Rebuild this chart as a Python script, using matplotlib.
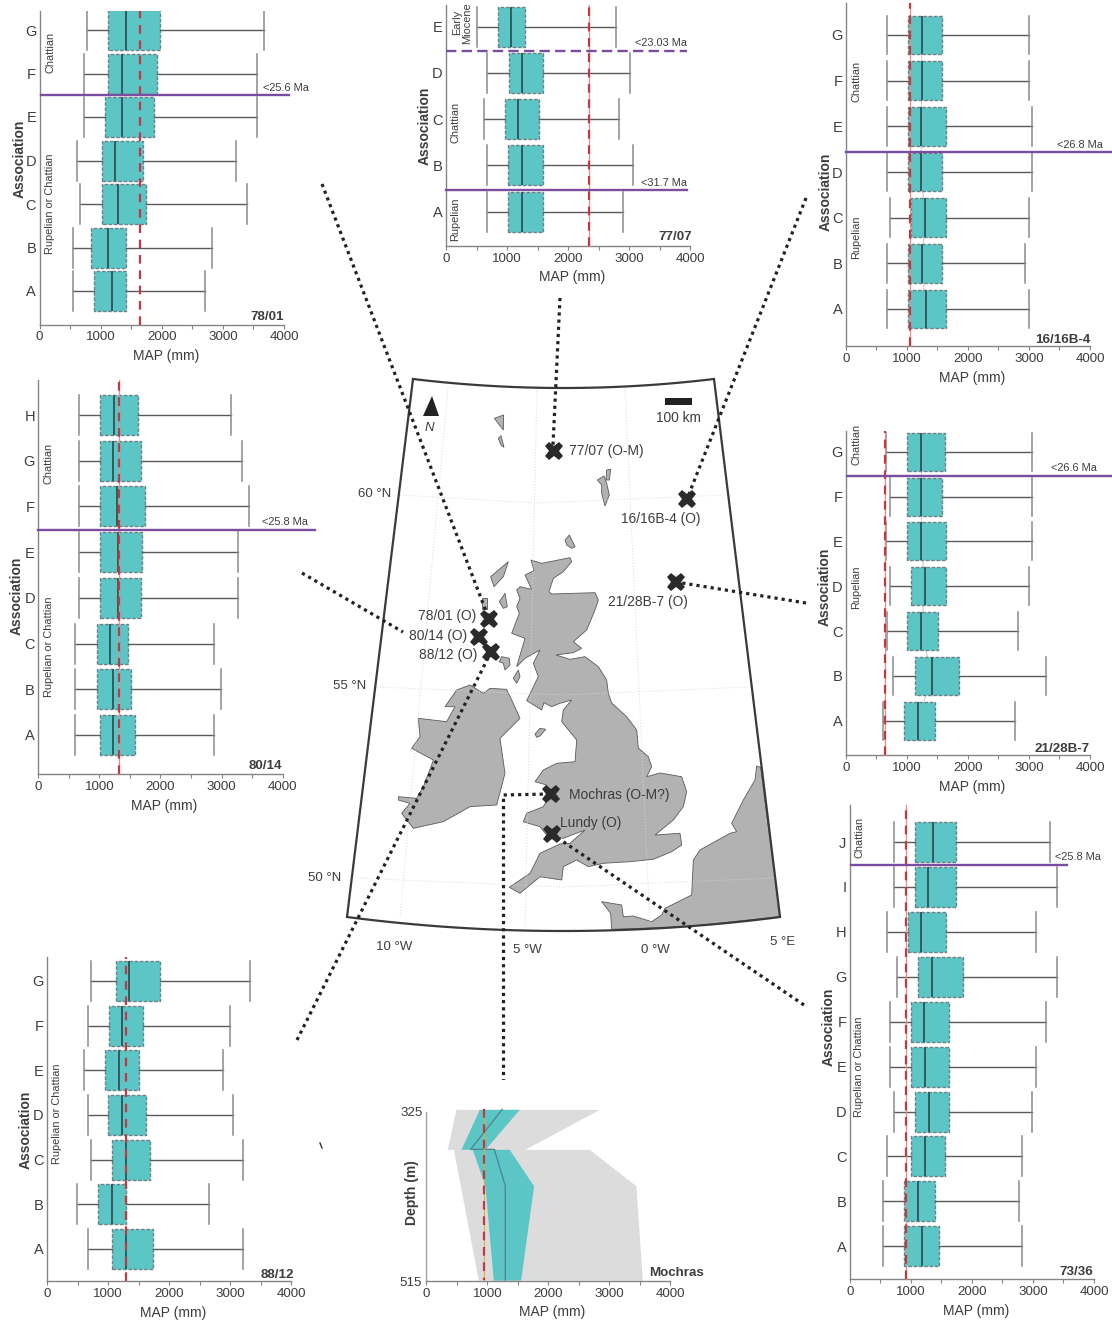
import matplotlib
matplotlib.use("Agg")
import matplotlib.pyplot as plt
from matplotlib.patches import Polygon
import numpy as np

plt.rcParams['font.family'] = ['Liberation Sans', 'DejaVu Sans']
W, H = 1112, 1323
INK = '#3d3d3d'
TEAL = '#5CC5C5'
PURPLE = '#7A4DA0'
RED = '#BE3A44'

XTICKS = [0, 500, 1000, 1500, 2000, 2500, 3000, 3500, 4000]
XTICKLABELS = ['0', '', '1000', '', '2000', '', '3000', '', '4000']

# ---------- box data, association A upward ----------
CATS_7801 = list('ABCDEFG')
LOW_7801 = [552, 552, 667, 612, 721, 721, 781]
Q1_7801 = [896, 842, 1016, 1016, 1071, 1126, 1126]
MED_7801 = [1191, 1115, 1290, 1240, 1344, 1344, 1415]
Q3_7801 = [1410, 1410, 1743, 1689, 1869, 1918, 1973]
HIGH_7801 = [2710, 2820, 3388, 3219, 3557, 3557, 3678]
REF_7801 = 1639

CATS_8014 = list('ABCDEFGH')
LOW_8014 = [606, 606, 606, 666, 666, 666, 666, 666]
Q1_8014 = [1015, 955, 955, 1010, 1015, 1010, 1015, 1010]
MED_8014 = [1228, 1228, 1179, 1299, 1299, 1288, 1228, 1239]
Q3_8014 = [1577, 1522, 1463, 1686, 1692, 1741, 1686, 1637]
HIGH_8014 = [2881, 2996, 2881, 3274, 3274, 3443, 3329, 3160]
REF_8014 = 1321

CATS_8812 = list('ABCDEFG')
LOW_8812 = [666, 497, 720, 666, 606, 666, 720]
Q1_8812 = [1064, 841, 1064, 1004, 955, 1010, 1124]
MED_8812 = [1293, 1064, 1288, 1233, 1173, 1233, 1348]
Q3_8812 = [1741, 1288, 1681, 1626, 1512, 1571, 1855]
HIGH_8812 = [3214, 2652, 3214, 3050, 2875, 2990, 3329]
REF_8812 = 1293

CATS_7707 = list('ABCDE')
LOW_7707 = [677, 677, 617, 677, 507]
Q1_7707 = [1021, 1021, 966, 1026, 851]
MED_7707 = [1250, 1239, 1184, 1244, 1064]
Q3_7707 = [1588, 1588, 1527, 1588, 1299]
HIGH_7707 = [2892, 3067, 2837, 3006, 2783]
REF_7707 = 2335

CATS_1616 = list('ABCDEFG')
LOW_1616 = [671, 671, 731, 671, 671, 671, 671]
Q1_1616 = [1015, 1020, 1075, 1015, 1015, 1015, 1015]
MED_1616 = [1310, 1244, 1304, 1233, 1233, 1244, 1244]
Q3_1616 = [1637, 1582, 1637, 1577, 1637, 1582, 1582]
HIGH_1616 = [2996, 2935, 2996, 3050, 3050, 2996, 2996]
REF_1616 = 1053

CATS_2128 = list('ABCDEFG')
LOW_2128 = [611, 780, 671, 726, 660, 726, 660]
Q1_2128 = [955, 1130, 1010, 1070, 1010, 1010, 1010]
MED_2128 = [1184, 1413, 1239, 1293, 1239, 1239, 1239]
Q3_2128 = [1462, 1855, 1517, 1643, 1637, 1577, 1632]
HIGH_2128 = [2772, 3280, 2827, 2996, 3056, 3056, 3056]
REF_2128 = 644

CATS_7336 = list('ABCDEFGHIJ')
LOW_7336 = [551, 551, 606, 720, 660, 660, 780, 606, 720, 720]
Q1_7336 = [895, 890, 1010, 1070, 1010, 1004, 1119, 960, 1070, 1070]
MED_7336 = [1179, 1113, 1233, 1293, 1233, 1222, 1348, 1173, 1288, 1359]
Q3_7336 = [1457, 1402, 1566, 1626, 1626, 1626, 1861, 1572, 1741, 1741]
HIGH_7336 = [2821, 2767, 2821, 2990, 3050, 3220, 3388, 3045, 3388, 3274]
REF_7336 = 928

# ---------- Mochras depth profile ----------
MO_DEPTH = [322, 367, 367, 408, 514]
MO_GREY_LOW = [486, 344, 443, 558, 852]
MO_GREY_HIGH = [2836, 1617, 2672, 3437, 3541]
MO_TEAL_LOW = [869, 568, 754, 962, 1098]
MO_TEAL_HIGH = [1524, 962, 1360, 1759, 1546]
MO_MED = [1246, 727, 1115, 1295, 1295]
MO_REF = 951
MO_YTICKS = [325, 515]

# ---------- map outlines, in map pixels ----------
def z2(p):
    return [(340 + x / 3, 370 + y / 3) for x, y in p]
def z3(p):
    return [(340 + x / 3, 660 + y / 3) for x, y in p]
def z4(p):
    return [(470 + x / 3, 530 + y / 3) for x, y in p]

BRITAIN = z4([(183, 90), (215, 100), (300, 83), (305, 95), (280, 125), (250, 145), (237, 185), (245, 192), (375, 188),
              (385, 210), (375, 240), (350, 300), (310, 335), (335, 355), (310, 368), (258, 375), (300, 388), (345, 380),
              (385, 410), (410, 450), (415, 490)]) + \
    [(611.7, 703), (626.7, 716.7), (636.7, 730),
     (638.3, 748), (648.3, 756.7), (651.7, 766.7), (646.7, 776.7), (660, 773), (681.7, 776.7), (686.7, 791.7),
     (683.3, 806.7), (673.3, 820), (655, 835), (680, 833.3), (681.7, 845), (671.7, 851.7), (653.3, 859.3),
     (630, 861.7), (603.3, 863.3), (588.3, 866.7), (576.7, 860), (563.3, 866.7), (561.7, 880), (540, 876.7),
     (520, 893.3), (509.3, 887.3), (530, 873.3), (540, 853.3), (560, 844), (570, 843.3), (585, 830),
     (563.3, 838.3), (546.7, 835), (540, 826.7), (523.3, 821.7), (526.7, 813.3), (543.3, 806.7), (550, 795),
     (546.7, 785), (535, 781.7), (543.3, 770), (556.7, 763.3), (575, 761.7), (576.7, 740), (561.7, 721.7),
     (563.3, 710)] + \
    z4([(305, 510), (270, 520), (245, 530), (222, 518), (215, 540), (170, 512), (205, 440), (190, 400), (210, 360),
        (165, 385), (140, 410), (165, 325), (125, 310), (148, 250), (140, 230), (150, 205), (140, 180), (150, 170),
        (185, 178), (165, 135), (192, 122)])
IRELAND = z3([(390, 75), (430, 100), (450, 85), (500, 88), (515, 120), (540, 175), (500, 215), (480, 235), (495, 340),
              (470, 435), (390, 440), (310, 485), (220, 505), (185, 460), (210, 430), (175, 420), (175, 410),
              (230, 415), (250, 380), (275, 315), (280, 300), (215, 265), (240, 230), (235, 175), (320, 185),
              (345, 140), (315, 140), (350, 90)])
CONTINENT = z3([(1250, 318), (1262, 322), (1320, 770), (1040, 800), (815, 808), (812, 760), (785, 725), (845, 735),
                (850, 770), (880, 768), (935, 785), (965, 765), (975, 745), (1055, 705), (1060, 600), (1080, 570),
                (1170, 520), (1190, 515), (1175, 490), (1210, 420), (1245, 360)])
ISLANDS = [z3([(585, 222), (600, 205), (617, 208), (600, 228), (590, 232)]),
           z4([(130, 445), (145, 420), (150, 440), (140, 460)]),
           z4([(88, 395), (95, 380), (118, 385), (120, 405), (105, 420), (100, 400)]),
           z4([(62, 140), (115, 95), (100, 140), (72, 170)]),
           z4([(88, 215), (105, 190), (112, 230), (100, 235)]),
           z4([(35, 205), (50, 205), (50, 238), (37, 238)]),
           z4([(285, 30), (298, 15), (315, 50), (305, 55), (290, 45)]),
           z2([(800, 300), (812, 298), (808, 330), (798, 330)]),
           z2([(772, 330), (792, 318), (800, 340), (808, 375), (795, 408), (785, 370), (785, 345)]),
           z2([(463, 145), (491, 135), (490, 180)]),
           z2([(475, 205), (483, 197), (492, 232), (483, 225)])]
GRID = [([400, 535, 727], [495, 503, 495]), ([377, 563, 748], [687, 695, 687]), ([355, 563, 773], [878, 887, 878]),
        ([448, 400], [387, 917]), ([537, 525], [388, 927]), ([625, 650], [388, 925])]
LINKS = [([322, 489], [184, 619]), ([302, 403], [573, 632]), ([297, 491], [1040, 652]), ([560, 553], [298, 445]),
         ([806, 687], [198, 499]), ([806, 676], [603, 582]), ([804, 552], [1005, 834]),
         ([550, 503.5, 503.5], [794, 795, 1080])]
SITES_X = [554, 687, 675.7, 489, 479, 491, 550.7, 551.7]
SITES_Y = [451, 499, 581.7, 619, 636.7, 652, 794, 834]
SITE_NAMES = ['77/07 (O-M)', '16/16B-4 (O)', '21/28B-7 (O)', '78/01 (O)', '80/14 (O)', '88/12 (O)',
              'Mochras (O-M?)', 'Lundy (O)']
SITE_LABEL_X = [569, 621, 607.7, 418, 409, 419, 568.7, 560]
SITE_LABEL_Y = [451, 519, 602, 615.7, 636, 655, 795, 822.7]
GEO_LABELS = ['60 °N', '55 °N', '50 °N', '10 °W', '5 °W', '0 °W', '5 °E']
GEO_X = [375, 350, 325, 394, 527, 655, 783]
GEO_Y = [494, 686, 878, 947, 950, 950, 942]

fig = plt.figure(figsize=(W / 100, H / 100), dpi=100, facecolor='white')

def full_axes(z):
    a = fig.add_axes([0, 0, 1, 1], zorder=z)
    a.set_xlim(0, W)
    a.set_ylim(H, 0)
    a.axis('off')
    a.patch.set_alpha(0)
    return a

base = full_axes(0)
top = full_axes(5)

def note(x, y, s, size=10, ha='center', va='center', rot=0, weight='normal', style='normal', color=INK, ls=None):
    top.text(x + (1.5 if rot else 0), y, s, fontsize=size, ha=ha, va=va, rotation=rot, fontweight=weight,
             fontstyle=style, color=color, rotation_mode='anchor' if rot else 'default', linespacing=ls or 1.1)

# ---------- map ----------
for gx, gy in GRID:
    base.plot(gx, gy, color='#d8d8d8', lw=0.7, ls=(0, (1, 2)))
land = dict(facecolor='#b2b2b2', edgecolor='#5a5a5a', lw=0.6)
for poly in [BRITAIN, IRELAND, CONTINENT] + ISLANDS:
    base.add_patch(Polygon(poly, closed=True, **land))
tt = np.linspace(0, 1, 40)
nx = 413 + (714 - 413) * tt
ny = 379 + 4 * 9 * tt * (1 - tt)
sx = 780 + (347 - 780) * tt
sy = 917 + 4 * 14 * tt * (1 - tt)
base.plot(list(nx) + list(sx) + [413], list(ny) + list(sy) + [379], color='#3a3a3a', lw=1.6, solid_joinstyle='miter')
for lx, ly in LINKS:
    base.plot(lx, ly, color='#222222', lw=2.3, ls=(0, (1, 1.25)), dash_capstyle='butt', zorder=4)
base.plot([320, 322], [1143, 1148], color='#333333', lw=1)
base.plot(SITES_X, SITES_Y, ls='none', marker='X', ms=13.5, color='#2a2a2a', mew=0, zorder=6)
for s, x, y in zip(SITE_NAMES, SITE_LABEL_X, SITE_LABEL_Y):
    note(x, y, s, ha='left', size=9.9)
for s, x, y in zip(GEO_LABELS, GEO_X, GEO_Y):
    note(x, y, s, size=9.5)
base.add_patch(Polygon([(665, 398), (692, 398), (692, 405), (665, 405)], facecolor='#222222', edgecolor='none'))
note(678, 418, '100 km', size=9.9)
base.add_patch(Polygon([(432, 396), (423, 416), (439, 416)], facecolor='#222222', edgecolor='none'))
note(429.7, 428, 'N', size=9.5, style='italic')


def style_axes(ax):
    for k in ('top', 'right'):
        ax.spines[k].set_visible(False)
    for k in ('left', 'bottom'):
        ax.spines[k].set_color('#858585')
        ax.spines[k].set_linewidth(1.0)
    ax.set_xticks(XTICKS)
    ax.set_xticklabels(XTICKLABELS, fontsize=9.6, color=INK)
    ax.tick_params(axis='x', length=3, width=0.8, color='#858585', pad=2)


def panel(x0, x1, ytop, ybot, ya, yl, half, cats, low, q1, med, q3, high, ref, under=True, link=False):
    ax = fig.add_axes([x0 / W, 1 - ybot / H, (x1 - x0) / W, (ybot - ytop) / H], zorder=2)
    ax.patch.set_alpha(0)
    n = len(cats)
    s = (ya - yl) / (n - 1)
    ax.set_xlim(0, 4000)
    ax.set_ylim(-(ybot - ya) / s, n - 1 + (yl - ytop) / s)
    if link:
        ax.plot(med, range(n), color='#c4c4c4', lw=0.7, zorder=1)
    stats = [dict(whislo=a, q1=b, med=c, q3=d, whishi=e, fliers=[]) for a, b, c, d, e in zip(low, q1, med, q3, high)]
    w = 2 * half / s
    ax.bxp(stats, positions=range(n), widths=w, capwidths=w, orientation='horizontal', patch_artist=True,
           showfliers=False, manage_ticks=False, zorder=2,
           boxprops=dict(facecolor=TEAL, edgecolor='#6a8288', lw=1.0, ls=(0, (2.6, 1.2))),
           whiskerprops=dict(color='#5a5a5a', lw=1.0), capprops=dict(color='#8a8a8a', lw=1.1),
           medianprops=dict(color='#2f5456', lw=1.3))
    if under:
        ax.axvline(ref, color='#F08A8A', lw=0.9, zorder=3, clip_on=False)
    ax.axvline(ref, color=RED, lw=1.6, ls=(0, (3.9, 3.0)), zorder=3, clip_on=False, dash_capstyle='butt')
    style_axes(ax)
    ax.set_yticks(range(n))
    ax.set_yticklabels(cats, fontsize=10.5, color=INK)
    ax.tick_params(axis='y', length=0, pad=2.4)
    return ax


def age(ax, y, xmax, ls='-', xmin=0):
    ax.plot([xmin, xmax], [y, y], color=PURPLE, lw=1.7, ls=ls, clip_on=False, zorder=4)


XL = 'MAP (mm)'
ASSOC = 'Association'
AGE_SIZE = 7.9
AS_SIZE = 10

a = panel(39.5, 284, 11, 324.5, 291, 30, 20, CATS_7801, LOW_7801, Q1_7801, MED_7801, Q3_7801, HIGH_7801, REF_7801, under=False)
age(a, 4.5, 4077, xmin=20)
note(286, 88, '<25.6 Ma', size=7.9)
note(48.7, 52, 'Chattian', size=AGE_SIZE, rot=90)
note(48.7, 204, 'Rupelian or Chattian', size=AGE_SIZE, rot=90)
note(18, 158.7, ASSOC, size=AS_SIZE, rot=90, weight='bold')
note(166, 356, XL)
note(284.3, 316.7, '78/01', size=9.6, ha='right', weight='bold')

a = panel(38.3, 282.7, 380, 774, 735, 415, 20, CATS_8014, LOW_8014, Q1_8014, MED_8014, Q3_8014, HIGH_8014, REF_8014)
age(a, 4.49, 4523)
note(285, 522, '<25.8 Ma', size=7.9)
note(47.3, 463.7, 'Chattian', size=AGE_SIZE, rot=90)
note(47.3, 647, 'Rupelian or Chattian', size=AGE_SIZE, rot=90)
note(15.3, 595.7, ASSOC, size=AS_SIZE, rot=90, weight='bold')
note(164.3, 805.7, XL)
note(282.3, 766, '80/14', size=9.6, ha='right', weight='bold')

a = panel(47, 291.3, 957, 1281, 1249, 981, 20, CATS_8812, LOW_8812, Q1_8812, MED_8812, Q3_8812, HIGH_8812, REF_8812, under=False)
note(55, 1114, 'Rupelian or Chattian', size=AGE_SIZE, rot=90)
note(24.3, 1130, ASSOC, size=AS_SIZE, rot=90, weight='bold')
note(173.3, 1312.7, XL)
note(294.3, 1275, '88/12', size=9.6, ha='right', weight='bold')

a = panel(446, 690.3, 5, 246, 211.7, 26.7, 20, CATS_7707, LOW_7707, Q1_7707, MED_7707, Q3_7707, HIGH_7707, REF_7707)
age(a, 3.475, 3946, ls=(0, (4.4, 2.2)))
age(a, 0.476, 3946)
note(661, 42.7, '<23.03 Ma', size=7.9)
note(664, 183, '<31.7 Ma', size=7.9)
note(460.7, 22.7, 'Early\nMiocene', size=AGE_SIZE, rot=90, ls=1.05)
note(454, 122.7, 'Chattian', size=AGE_SIZE, rot=90)
note(454, 219, 'Rupelian', size=AGE_SIZE, rot=90)
note(423, 126, ASSOC, size=AS_SIZE, rot=90, weight='bold')
note(572.3, 277.3, XL)
note(691.7, 237.3, '77/07', size=9.6, ha='right', weight='bold')

a = panel(845.7, 1090, 3, 346, 309, 35, 19.3, CATS_1616, LOW_1616, Q1_1616, MED_1616, Q3_1616, HIGH_1616, REF_1616, link=True)
age(a, 3.43, 4360)
note(1079.5, 145, '<26.8 Ma', size=7.9)
note(855, 81.7, 'Chattian', size=AGE_SIZE, rot=90)
note(855, 237.7, 'Rupelian', size=AGE_SIZE, rot=90)
note(824, 191.7, ASSOC, size=AS_SIZE, rot=90, weight='bold')
note(972.3, 378.3, XL)
note(1090, 340, '16/16B-4', size=9.6, ha='right', weight='bold')

a = panel(845.7, 1090, 431, 755, 720.7, 451.7, 19, CATS_2128, LOW_2128, Q1_2128, MED_2128, Q3_2128, HIGH_2128, REF_2128, link=True)
age(a, 5.465, 4360, xmin=15)
note(1073.5, 468, '<26.6 Ma', size=7.9)
note(855, 444, 'Chattian', size=AGE_SIZE, rot=90)
note(855, 587.7, 'Rupelian', size=AGE_SIZE, rot=90)
note(823, 587, ASSOC, size=AS_SIZE, rot=90, weight='bold')
note(972.3, 786.7, XL)
note(1090, 749, '21/28B-7', size=9.6, ha='right', weight='bold')

a = panel(849.7, 1094, 805, 1279, 1246.3, 842, 20, CATS_7336, LOW_7336, Q1_7336, MED_7336, Q3_7336, HIGH_7336, REF_7336)
age(a, 8.485, 3553, xmin=15)
note(1078, 857, '<25.8 Ma', size=7.9)
note(857.7, 837.7, 'Chattian', size=AGE_SIZE, rot=90)
note(858, 1066.7, 'Rupelian or Chattian', size=AGE_SIZE, rot=90)
note(827, 1026.7, ASSOC, size=AS_SIZE, rot=90, weight='bold')
note(975.7, 1311, XL)
note(1093.3, 1271.7, '73/36', size=9.6, ha='right', weight='bold')

# ---------- Mochras ----------
m = fig.add_axes([426.3 / W, 1 - 1281 / H, 244 / W, 169 / H], zorder=2)
m.patch.set_alpha(0)
m.set_xlim(0, 4000)
m.set_ylim(515, 325)
m.fill_betweenx(MO_DEPTH, MO_GREY_LOW, MO_GREY_HIGH, color='#dcdcdc', lw=0, clip_on=False)
m.fill_betweenx(MO_DEPTH, MO_TEAL_LOW, MO_TEAL_HIGH, color=TEAL, lw=0, clip_on=False)
m.plot(MO_MED, MO_DEPTH, color='#4c8487', lw=0.9, clip_on=False)
m.plot([MO_REF, MO_REF], [MO_DEPTH[0], MO_DEPTH[-1]], color='#EDA93A', lw=0.8, clip_on=False)
m.plot([MO_REF, MO_REF], [MO_DEPTH[0], MO_DEPTH[-1]], color=RED, lw=1.6, ls=(0, (3.9, 3.0)), clip_on=False,
       dash_capstyle='butt')
style_axes(m)
m.spines['left'].set_color('#a8a8a8')
m.set_yticks(MO_YTICKS)
m.set_yticklabels([str(v) for v in MO_YTICKS], fontsize=9.6, color=INK)
m.tick_params(axis='y', length=0, pad=2.8)
note(410.7, 1193, 'Depth (m)', size=AS_SIZE, rot=90, weight='bold')
note(552.3, 1311.7, XL)
note(704.3, 1272.7, 'Mochras', size=9.6, ha='right', weight='bold')

fig.savefig('out.png', dpi=100, facecolor='white')
